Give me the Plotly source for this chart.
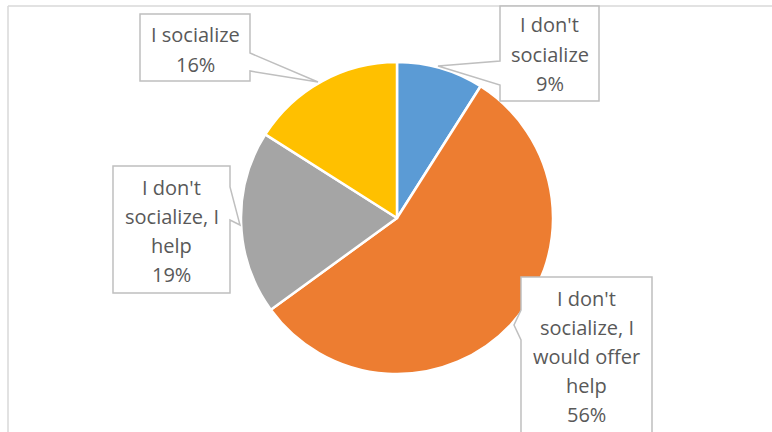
import plotly.graph_objects as go

labels = ["I don't socialize", "I don't socialize, I would offer help",
          "I don't socialize, I help", "I socialize"]
values = [9, 56, 19, 16]
colors = ["#5B9BD5", "#ED7D31", "#A5A5A5", "#FFC000"]
label_lines = [["I don't", "socialize", "9%"],
               ["I don't", "socialize, I", "would offer", "help", "56%"],
               ["I don't", "socialize, I", "help", "19%"],
               ["I socialize", "16%"]]

W, H = 772, 432
def px(x): return x / W
def py(y): return 1 - y / H

# callout boxes: (x0, y0, x1, y1, side, notch_a, notch_b, tip)
callouts = [
    (500, 6, 599, 101, "left", 61, 85, (438, 66)),
    (521, 277, 652, 440, "left", 310, 340, (514, 325)),
    (113, 166, 230, 293, "right", 187, 220, (240, 225)),
    (140, 14, 250, 81, "right", 53, 71, (318, 82)),
]
line_step = 29

fig = go.Figure(go.Pie(
    labels=labels, values=values, sort=False, direction="clockwise",
    rotation=0, textinfo="none", hoverinfo="label+percent",
    marker=dict(colors=colors, line=dict(color="white", width=2.5)),
    domain=dict(x=[px(241), px(553)], y=[py(374), py(62)]),
    showlegend=False,
))

shapes = []
annotations = []
for (x0, y0, x1, y1, side, a, b, tip), lines in zip(callouts, label_lines):
    tx, ty = tip
    if side == "left":
        pts = [(x0, y0), (x1, y0), (x1, y1), (x0, y1), (x0, b), (tx, ty), (x0, a)]
    else:
        pts = [(x0, y0), (x1, y0), (x1, a), (tx, ty), (x1, b), (x1, y1), (x0, y1)]
    path = "M " + " L ".join(f"{px(x):.5f},{py(y):.5f}" for x, y in pts) + " Z"
    shapes.append(dict(type="path", xref="paper", yref="paper", path=path,
                       fillcolor="white", line=dict(color="#BFBFBF", width=1.5),
                       layer="above"))

# text positions (centers of first line)
first_line_y = [25, 298, 187, 35]
for (x0, y0, x1, y1, *_), lines, fy in zip(callouts, label_lines, first_line_y):
    cx = (x0 + x1) / 2
    for i, t in enumerate(lines):
        annotations.append(dict(text=t, x=px(cx), y=py(fy + i * line_step),
                                xref="paper", yref="paper", showarrow=False,
                                xanchor="center", yanchor="middle",
                                font=dict(family="Open Sans", size=20, color="#595959")))

# chart border
shapes.insert(0, dict(type="line", xref="paper", yref="paper",
                      x0=px(8), y0=py(6), x1=px(8), y1=py(440),
                      line=dict(color="#D9D9D9", width=1.5)))
shapes.insert(0, dict(type="line", xref="paper", yref="paper",
                      x0=px(8), y0=py(6), x1=px(780), y1=py(6),
                      line=dict(color="#D9D9D9", width=1.5)))

fig.update_layout(width=W, height=H, margin=dict(l=0, r=0, t=0, b=0),
                  paper_bgcolor="white", plot_bgcolor="white",
                  shapes=shapes, annotations=annotations)
fig.write_html("out.html")
